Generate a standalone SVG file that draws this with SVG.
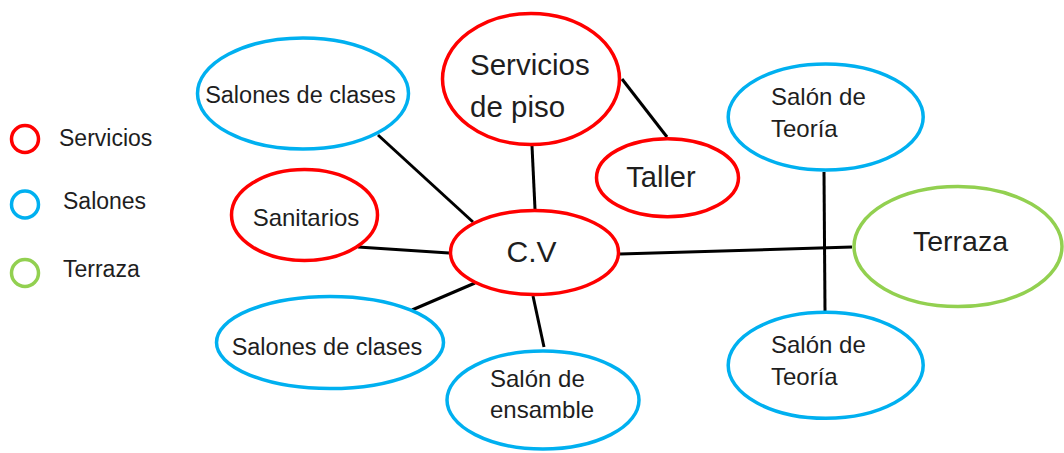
<svg xmlns="http://www.w3.org/2000/svg" width="1064" height="453" viewBox="0 0 1064 453">
<style>
.n{fill:#fff;stroke-width:3.5}
.r{stroke:#ff0000}
.b{stroke:#00b0f0}
.g{stroke:#92d050}
.t{font-family:"Liberation Sans",Arial,sans-serif;fill:#1e1e1e}
.s{font-size:23.5px}
.m{text-anchor:middle}
.c line{stroke:#000;stroke-width:3;stroke-linecap:butt}
</style>
<rect width="1064" height="453" fill="#fff"/>
<g id="legend">
<circle class="n r" cx="25" cy="139" r="13.5" stroke-width="3"/>
<circle class="n b" cx="25" cy="204.5" r="13.5" stroke-width="3"/>
<circle class="n g" cx="25" cy="273" r="13.5" stroke-width="3"/>
<text class="t" x="59" y="145.5" font-size="23">Servicios</text>
<text class="t" x="63" y="209" font-size="23">Salones</text>
<text class="t" x="63" y="277" font-size="23">Terraza</text>
</g>
<g class="c" id="connectors">
<line x1="378" y1="135" x2="473" y2="222"/>
<line x1="358" y1="247" x2="449" y2="253"/>
<line x1="475" y1="283" x2="412" y2="310"/>
<line x1="533" y1="296" x2="544" y2="347"/>
<line x1="532" y1="146" x2="535" y2="209"/>
<line x1="622" y1="79" x2="667" y2="137"/>
<line x1="620" y1="254" x2="852" y2="247"/>
<line x1="824" y1="172" x2="825" y2="311"/>
</g>
<g id="salones-clases-1">
<ellipse class="n b" cx="303" cy="93.5" rx="105.5" ry="55.5"/>
<text class="t s m" x="300.5" y="102.5">Salones de clases</text>
</g>
<g id="sanitarios">
<ellipse class="n r" cx="304.5" cy="215" rx="73" ry="45.5"/>
<text class="t m" x="306" y="225.5" font-size="24">Sanitarios</text>
</g>
<g id="salones-clases-2">
<ellipse class="n b" cx="330" cy="342.5" rx="113.5" ry="46"/>
<text class="t s m" x="327" y="355">Salones de clases</text>
</g>
<g id="servicios-piso">
<ellipse class="n r" cx="531" cy="79" rx="88.5" ry="65.5"/>
<text class="t" x="470" y="75" font-size="29.5">Servicios</text>
<text class="t" x="470" y="116.7" font-size="29.5">de piso</text>
</g>
<g id="taller">
<ellipse class="n r" cx="667.5" cy="177.7" rx="71" ry="39"/>
<text class="t m" x="661" y="187" font-size="29">Taller</text>
</g>
<g id="cv">
<ellipse class="n r" cx="534.5" cy="252.5" rx="84" ry="42"/>
<text class="t m" x="531.5" y="262" font-size="30">C.V</text>
</g>
<g id="salon-ensamble">
<ellipse class="n b" cx="543" cy="400" rx="96" ry="49"/>
<text class="t" x="490" y="387" font-size="24">Salón de</text>
<text class="t" x="490" y="418" font-size="24">ensamble</text>
</g>
<g id="salon-teoria-1">
<ellipse class="n b" cx="825.7" cy="117" rx="97.5" ry="53"/>
<text class="t" x="771" y="105" font-size="24">Salón de</text>
<text class="t" x="771" y="137" font-size="24">Teoría</text>
</g>
<g id="salon-teoria-2">
<ellipse class="n b" cx="825.7" cy="365.3" rx="97.5" ry="53"/>
<text class="t" x="771" y="353" font-size="24">Salón de</text>
<text class="t" x="771" y="385" font-size="24">Teoría</text>
</g>
<g id="terraza">
<ellipse class="n g" cx="958" cy="246.5" rx="104" ry="60"/>
<text class="t m" x="960.5" y="250.5" font-size="28.5">Terraza</text>
</g>
</svg>
